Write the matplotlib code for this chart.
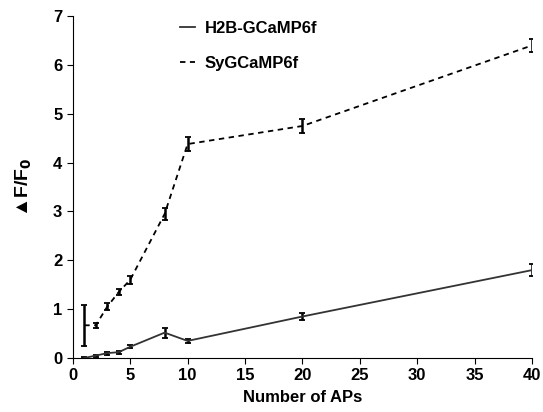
import matplotlib.pyplot as plt

plt.rcParams['font.family'] = ['Liberation Sans', 'DejaVu Sans']
plt.rcParams['font.weight'] = 'bold'

# data
aps = [1, 2, 3, 4, 5, 8, 10, 20, 40]
h2b = [0.0, 0.05, 0.1, 0.12, 0.23, 0.52, 0.35, 0.85, 1.8]
h2b_err = [0.02, 0.02, 0.03, 0.03, 0.03, 0.1, 0.04, 0.07, 0.12]
sy = [0.67, 0.67, 1.05, 1.35, 1.6, 2.95, 4.38, 4.75, 6.4]
sy_err = [0.42, 0.05, 0.07, 0.07, 0.08, 0.12, 0.15, 0.15, 0.13]

fig, ax = plt.subplots(figsize=(5.43, 4.12), dpi=100)
plt.subplots_adjust(left=0.134, right=0.98, bottom=0.131, top=0.961)

ax.errorbar(aps, h2b, yerr=h2b_err, color='#333333', lw=1.3, ecolor='black',
            elinewidth=1.8, capsize=2, capthick=1.3, label='H2B-GCaMP6f')
ax.errorbar(aps, sy, yerr=sy_err, color='black', lw=1.3, ls=(0, (3, 2.5)),
            ecolor='black', elinewidth=1.8, capsize=2, capthick=1.3,
            label='SyGCaMP6f')

ax.set_xlim(0, 40)
ax.set_ylim(0, 7)
ax.set_xticks(range(0, 41, 5))
ax.set_yticks(range(0, 8))
ax.spines['top'].set_visible(False)
ax.spines['right'].set_visible(False)
ax.tick_params(direction='out', length=4, labelsize=12)
for lab in ax.get_xticklabels() + ax.get_yticklabels():
    lab.set_fontweight('bold')

ax.set_xlabel('Number of APs', fontsize=12, fontweight='bold', labelpad=5)
ax.set_ylabel('▲F/F$_\\mathbf{0}$', fontsize=14, fontweight='bold', labelpad=14)

handles, labels = ax.get_legend_handles_labels()
handles = [h[0] for h in handles]
ax.legend(handles, labels, loc='upper left', bbox_to_anchor=(0.2, 1.03),
          frameon=False, handlelength=0.9, handletextpad=0.6,
          labelspacing=1.2, prop={'weight': 'bold', 'size': 12})

plt.savefig('out.png', dpi=100)
